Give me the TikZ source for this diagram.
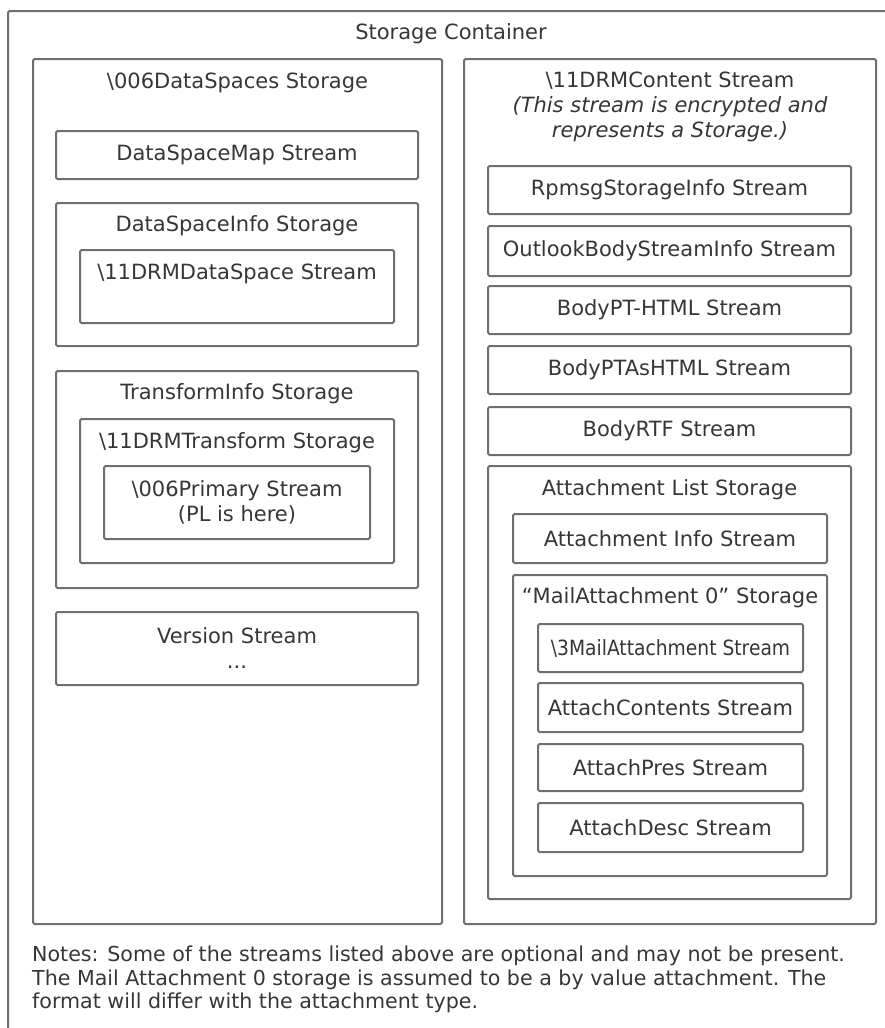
\documentclass[tikz,border=0pt]{standalone}
\usepackage{fontspec}
\setmainfont{DejaVu Sans}
\usetikzlibrary{positioning}
\definecolor{trait}{HTML}{6E6E6E}
\definecolor{texte}{HTML}{363636}
\tikzset{
  boite/.style={draw=trait,line width=2pt,rounded corners=1.5pt,anchor=north west,inner sep=0pt,
    text=texte,align=center,font=\fontsize{21}{25}\selectfont},
  titre/.style={inner sep=0pt,text=texte,align=center,text height=15pt,text depth=4.5pt,
    font=\fontsize{21}{25}\selectfont},
  titrelong/.style={inner sep=0pt,text=texte,align=center,font=\fontsize{21}{25}\selectfont},
}
\begin{document}
\begin{tikzpicture}[line cap=round,line join=round,x=1pt,y=-1pt]
		% Limites du dessin
		\useasboundingbox (0,0) rectangle (885,1028);
		\clip (0,0) rectangle (885,1028);
		
		% Conteneur
		\node[boite,minimum width=886,minimum height=1026] (cont) at (7,10) {};
		\node[titre,below=14pt of cont.north] (cont-t) {Storage Container};
		
		% Colonne gauche
		\node[boite,minimum width=409,minimum height=865] (dsp) at (32,58) {};
		\node[titre,below=15pt of dsp.north] (dsp-t) {\textbackslash 006DataSpaces Storage};
		\node[boite,minimum width=362,minimum height=48] (dsmap) at (55,130) {DataSpaceMap Stream};
		\node[boite,minimum width=362,minimum height=143] (dsinfo) at (55,202) {};
		\node[titre,below=14pt of dsinfo.north] (dsinfo-t) {DataSpaceInfo Storage};
		\node[boite,minimum width=314,minimum height=73] (drmds) at (79,249) {};
		\node[titre,below=15pt of drmds.north] (drmds-t) {\textbackslash 11DRMDataSpace Stream};
		\node[boite,minimum width=362,minimum height=217] (trinfo) at (55,370) {};
		\node[titre,below=14pt of trinfo.north] (trinfo-t) {TransformInfo Storage};
		\node[boite,minimum width=314,minimum height=144] (drmtr) at (79,418) {};
		\node[titre,below=15pt of drmtr.north] (drmtr-t) {\textbackslash 11DRMTransform Storage};
		\node[boite,minimum width=266,minimum height=73] (prim) at (103,465) {\textbackslash 006Primary Stream\\(PL is here)};
		\node[boite,minimum width=362,minimum height=73,font=\fontsize{21}{25}\selectfont] (vers) at (55,611) {Version Stream\\...};
		
		% Colonne droite
		\node[boite,minimum width=412,minimum height=865] (drmc) at (463,58) {};
		\node[titrelong,below=14pt of drmc.north] (drmc-t) {\textbackslash 11DRMContent Stream\\\textit{(This stream is encrypted and}\\\textit{represents a Storage.)}};
		\node[boite,minimum width=363,minimum height=48] (rpmsg) at (487,165) {RpmsgStorageInfo Stream};
		\node[boite,minimum width=363,minimum height=50] (outl) at (487,225) {OutlookBodyStreamInfo Stream};
		\node[boite,minimum width=363,minimum height=48] (bpt) at (487,285) {BodyPT-HTML Stream};
		\node[boite,minimum width=363,minimum height=48] (bptas) at (487,345) {BodyPTAsHTML Stream};
		\node[boite,minimum width=363,minimum height=48] (brtf) at (487,406) {BodyRTF Stream};
		\node[boite,minimum width=363,minimum height=433] (alist) at (487,465) {};
		\node[titre,below=15pt of alist.north] (alist-t) {Attachment List Storage};
		\node[boite,minimum width=314,minimum height=49] (ainfo) at (512,513) {Attachment Info Stream};
		\node[boite,minimum width=314,minimum height=301] (mail) at (512,574) {};
		\node[titre,below=14pt of mail.north] (mail-t) {“MailAttachment 0” Storage};
		\node[boite,minimum width=265,minimum height=48,font=\fontsize{21}{25}\selectfont\addfontfeature{FakeStretch=0.89}] (mail3) at (537,623) {\textbackslash 3MailAttachment Stream};
		\node[boite,minimum width=265,minimum height=49] (acont) at (537,682) {AttachContents Stream};
		\node[boite,minimum width=265,minimum height=47] (apres) at (537,743) {AttachPres Stream};
		\node[boite,minimum width=265,minimum height=49] (adesc) at (537,802) {AttachDesc Stream};
		
		% Notes
		\node[anchor=north west,inner sep=0pt,align=left,text=texte,font=\fontsize{20.6}{23.5}\selectfont] (notes) at (32,946)
		  {Notes: Some of the streams listed above are optional and may not be present.\\
		   The Mail Attachment 0 storage is assumed to be a by value attachment. The\\
		   format will differ with the attachment type.};
	\end{tikzpicture}
\end{document}
